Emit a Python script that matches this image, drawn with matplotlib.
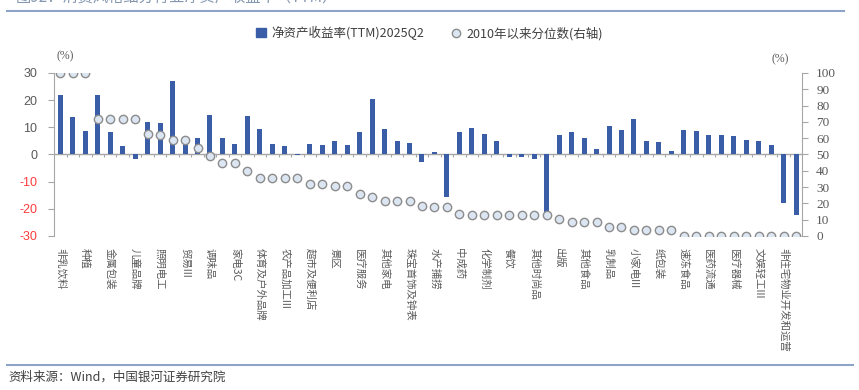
import matplotlib.pyplot as plt
import matplotlib.lines as mlines
import matplotlib.patches as mpatches
import numpy as np

plt.rcParams['font.family'] = ['Noto Sans CJK SC', 'DejaVu Sans']

# 60 sub-industries; only every other one is labelled on the axis
labels = ['非乳饮料', '', '种植', '', '金属包装', '', '儿童品牌', '', '照明电工', '',
          '贸易III', '', '调味品', '', '家电3C', '', '体育及户外品牌', '', '农产品加工III', '',
          '超市及便利店', '', '景区', '', '医疗服务', '', '其他家电', '', '珠宝首饰及钟表', '',
          '水产捕捞', '', '中成药', '', '化学制剂', '', '餐饮', '', '其他时尚品', '',
          '出版', '', '其他食品', '', '乳制品', '', '小家电III', '', '纸包装', '',
          '速冻食品', '', '医药流通', '', '医疗器械', '', '文娱轻工III', '', '非住宅物业开发和运营', '']

roe = [21.7, 13.6, 8.6, 21.7, 8.4, 3.2, -1.5, 12.1, 11.4, 27.2,
       4.8, 6.1, 14.4, 5.9, 4.0, 14.1, 9.5, 3.8, 3.2, -0.2,
       3.9, 3.5, 5.1, 3.3, 8.4, 20.4, 9.4, 5.1, 4.3, -2.8,
       1.0, -15.5, 8.1, 9.8, 7.5, 5.1, -1.0, -1.1, -1.5, -23.6,
       7.2, 8.3, 5.9, 2.1, 10.3, 9.1, 12.9, 4.9, 4.4, 1.1,
       8.9, 8.8, 7.2, 7.0, 6.9, 5.4, 4.8, 3.4, -17.9, -22.4]

pct = [100, 100, 100, 71.7, 71.7, 71.7, 71.7, 62.7, 61.7, 58.8,
       58.8, 53.7, 48.8, 44.7, 44.7, 39.8, 35.7, 35.7, 35.7, 35.7,
       31.8, 31.8, 30.7, 30.7, 25.8, 23.8, 21.7, 21.7, 21.7, 18.6,
       17.8, 17.8, 13.7, 12.7, 12.7, 12.7, 12.7, 12.7, 12.7, 12.7,
       10.7, 8.8, 8.8, 8.8, 5.7, 5.7, 3.7, 3.7, 3.7, 3.7,
       0, 0, 0, 0, 0, 0, 0, 0, 0, 0]

left_ticks = [30, 20, 10, 0, -10, -20, -30]
right_ticks = [0, 10, 20, 30, 40, 50, 60, 70, 80, 90, 100]

bar_color = '#3A5DA8'
grey = '#8C8C8C'
x = np.arange(len(roe))

fig = plt.figure(figsize=(8.59, 3.9), dpi=100)
ax = fig.add_axes([0.063, 0.395, 0.871, 0.418])
ax2 = ax.twinx()

ax.bar(x, roe, width=0.4, color=bar_color, zorder=2)
ax.axhline(0, color='#A6A6A6', lw=1, zorder=1)
ax.vlines(x[:-1] + 0.5, -0.9, 0, color='#A6A6A6', lw=0.8, zorder=1)
ax.set_xlim(-0.5, len(roe) - 0.5)
ax.set_ylim(-30, 30)
ax.set_yticks(left_ticks)
ax.set_yticklabels([str(t) for t in left_ticks], fontsize=9, family='Liberation Sans')
for lab, t in zip(ax.get_yticklabels(), left_ticks):
    lab.set_color('#FF3B3B' if t < 0 else '#595959')
ax.tick_params(axis='y', length=4, color='#A6A6A6', pad=8)
ax.set_xticks(x)
ax.set_xticklabels(labels, rotation=-90, fontsize=7.5, color='#595959', va='top', ha='center')
ax.tick_params(axis='x', length=0, pad=9)

ax2.plot(x, pct, 'o', ms=6, mfc='#DCE6F2', mec='#8C8C8C', mew=1, zorder=3)
ax2.set_ylim(0, 100)
ax2.set_yticks(right_ticks)
ax2.set_yticklabels([str(t) for t in right_ticks], fontsize=9.5, family='Liberation Serif', color='#595959')
ax2.tick_params(axis='y', length=4, color='#A6A6A6', pad=6)

for a in (ax, ax2):
    a.spines['top'].set_visible(False)
    a.spines['bottom'].set_visible(False)
    a.spines['left'].set_color('#A6A6A6')
    a.spines['right'].set_color('#A6A6A6')
ax2.spines['left'].set_visible(False)
ax.spines['right'].set_visible(False)

fig.text(0.066, 0.848, '(%)', fontsize=8.5, color='#595959', family='Liberation Serif')
fig.text(0.898, 0.840, '(%)', fontsize=8.5, color='#595959', family='Liberation Serif')

h1 = mpatches.Patch(color=bar_color)
h2 = mlines.Line2D([], [], marker='o', ls='', ms=6, mfc='#DCE6F2', mec='#8C8C8C')
fig.legend([h1, h2], ['净资产收益率(TTM)2025Q2', '2010年以来分位数(右轴)'],
           loc='center', bbox_to_anchor=(0.5, 0.915), ncol=2, frameon=False,
           fontsize=9, handlelength=0.8, handletextpad=0.4, columnspacing=2.2,
           labelcolor='#404040')

# title cut off at top, and frame lines
fig.text(0.018, 1.008, '图92：消费风格细分行业净资产收益率（TTM）', fontsize=11,
         color='#8497B0', va='center')
fig.add_artist(mlines.Line2D([0.008, 0.982], [0.972, 0.972], color='#8EA3C8', lw=1.5))
fig.add_artist(mlines.Line2D([0.008, 0.993], [0.064, 0.064], color='#8EA3C8', lw=1.5))
fig.text(0.010, 0.033, '资料来源：Wind，中国银河证券研究院', fontsize=9, color='#404040', va='center')

fig.savefig('out.png', dpi=100)
